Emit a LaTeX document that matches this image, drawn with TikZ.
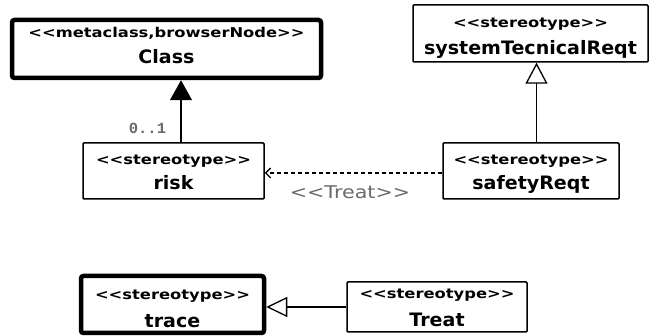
\documentclass[tikz,border=0pt]{standalone}
\usepackage{fontspec}
\setmainfont{DejaVu Sans}
\newfontfamily\stfont[FakeStretch=1.21]{DejaVu Sans}
\newfontfamily\nmfont[FakeStretch=1.03]{DejaVu Sans}
\newfontfamily\lblfont[FakeStretch=1.18]{DejaVu Sans}
\newfontfamily\multfont{Liberation Mono}
\usetikzlibrary{arrows.meta}
\definecolor{labelgrey}{RGB}{105,105,105}
\tikzset{
  umlbox/.style={draw=black, line width=1.5pt, fill=white, inner sep=0pt, rounded corners=1pt},
  thickbox/.style={umlbox, line width=4.5pt, rounded corners=2.5pt},
  stereo/.style={font=\stfont\bfseries\fontsize{13.5}{15}\selectfont, inner sep=0pt, anchor=base},
  nametext/.style={font=\nmfont\bfseries\fontsize{18.5}{20}\selectfont, inner sep=0pt, anchor=base},
  conn/.style={draw=black, line width=1.3pt},
  lbl/.style={text=labelgrey, inner sep=0pt},
}
\newcommand{\umlclass}[7]{%
  \node[#2] (#1) at (#3) {};
  \node[stereo] (#1-st) at ([yshift=-#6pt]#1.north) {#4};
  \node[nametext] (#1-nm) at ([yshift=-#7pt]#1.north) {#5};
}
\begin{document}
\begin{tikzpicture}[x=1pt,y=1pt]
\useasboundingbox (0,0) rectangle (652,336);
\umlclass{class}{thickbox, minimum width=309pt, minimum height=58pt}{166.5,287}{<<metaclass,browserNode>>}{Class}{20}{46}
\umlclass{sys}{umlbox, minimum width=235pt, minimum height=57pt}{530.5,302.5}{<<stereotype>>}{systemTecnicalReqt}{23}{50}
\umlclass{risk}{umlbox, minimum width=181pt, minimum height=56pt}{173.5,165}{<<stereotype>>}{risk}{22}{47}
\umlclass{safety}{umlbox, minimum width=176pt, minimum height=56pt}{531,165}{<<stereotype>>}{safetyReqt}{22}{47}
\umlclass{trace}{thickbox, minimum width=183pt, minimum height=57pt}{172.5,31.5}{<<stereotype>>}{trace}{26}{54}
\umlclass{treat}{umlbox, minimum width=180pt, minimum height=50pt}{437,29}{<<stereotype>>}{Treat}{17}{45}
\node[lbl, font=\multfont\bfseries\fontsize{15.5}{17}\selectfont] (mult) at (147.5,207.5) {0..1};
\node[lbl, font=\lblfont\fontsize{17.5}{19}\selectfont] (treatlbl) at (350,144) {<<Treat>>};
\draw[conn, -{Triangle[length=20pt,width=22pt]}] ([xshift=7.5pt]risk.north) -- ([xshift=7.5pt]risk.north |- class.south);
\draw[conn, -{Triangle[open,length=21pt,width=22pt,fill=white]}] ([xshift=5.5pt]safety.north) -- ([xshift=5.5pt]safety.north |- sys.south);
\draw[conn, dashed, dash pattern=on 4pt off 3pt, -{Straight Barb[length=5pt,width=10pt]}] ([yshift=-2pt]safety.west) -- ([yshift=-2pt]risk.east);
\draw[conn, -{Triangle[open,length=21pt,width=20pt,fill=white]}] (treat.west) -- (treat.west -| trace.east);
\end{tikzpicture}
\end{document}
